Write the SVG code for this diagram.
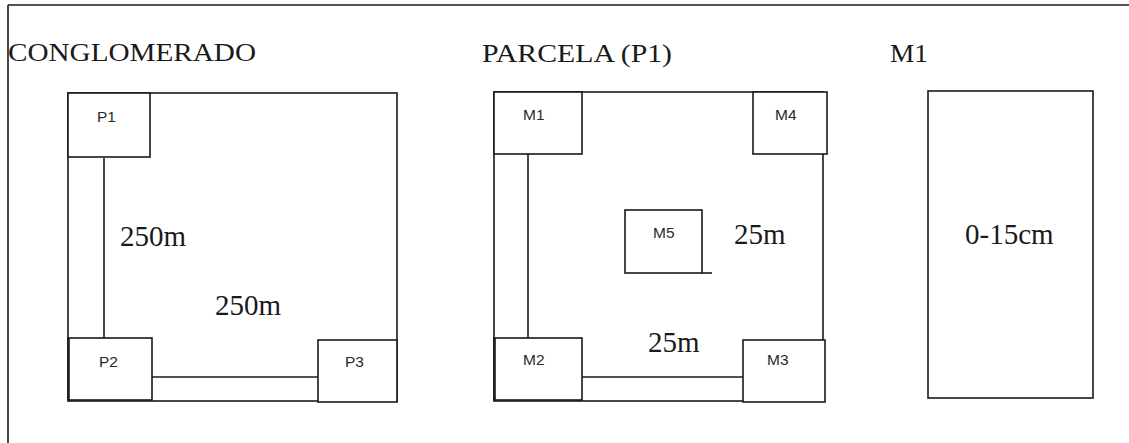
<svg xmlns="http://www.w3.org/2000/svg" width="1129" height="443" viewBox="0 0 1129 443">
<style>
.ln{stroke:#1a1a1a;stroke-width:1.6;fill:none}
.bx{stroke:#1a1a1a;stroke-width:1.6;fill:#fff}
.hd{font-family:"Liberation Serif","Times New Roman",serif;font-size:25px;fill:#1a1a1a}
.ms{font-family:"Liberation Serif","Times New Roman",serif;font-size:29px;fill:#1a1a1a}
.lb{font-family:"Liberation Sans",Arial,sans-serif;font-size:15.5px;fill:#2a2a2a}
</style>
<rect width="1129" height="443" fill="#fff"/>
<g id="frame">
<line class="ln" x1="8" y1="5" x2="1129" y2="5" stroke="#333"/>
<line class="ln" x1="8" y1="5" x2="8" y2="443" stroke="#333"/>
</g>
<g id="titles">
<text class="hd" x="8" y="61" textLength="248" lengthAdjust="spacingAndGlyphs">CONGLOMERADO</text>
<text class="hd" x="482" y="62" textLength="190" lengthAdjust="spacingAndGlyphs">PARCELA (P1)</text>
<text class="hd" x="890" y="62" textLength="38" lengthAdjust="spacingAndGlyphs">M1</text>
</g>
<g id="conglomerado">
<rect class="ln" x="68" y="93" width="329" height="308"/>
</g>
<g id="connectors">
<line class="ln" x1="104" y1="158" x2="104" y2="342"/>
<line class="ln" x1="152" y1="377" x2="318" y2="377"/>
<line class="ln" x1="528" y1="154" x2="528" y2="338"/>
<line class="ln" x1="582" y1="377" x2="743" y2="377"/>
<line class="ln" x1="702" y1="273" x2="712" y2="273"/>
</g>
<g id="P1"><rect class="bx" x="68" y="93" width="82" height="64"/><text class="lb" x="97" y="122">P1</text></g>
<g id="P2"><rect class="bx" x="68" y="338" width="84" height="62"/><line class="ln" x1="69" y1="338" x2="69" y2="400" stroke-width="2.5"/><text class="lb" x="99" y="367">P2</text></g>
<g id="P3"><rect class="bx" x="318" y="340" width="79" height="62"/><text class="lb" x="345" y="367">P3</text></g>
<g id="lbl-cong">
<text class="ms" x="120" y="246">250m</text>
<text class="ms" x="215" y="315">250m</text>
</g>
<g id="parcela">
<rect class="ln" x="494" y="92" width="329" height="309"/>
</g>
<g id="M1"><rect class="bx" x="494" y="92" width="88" height="62"/><text class="lb" x="523" y="120">M1</text></g>
<g id="M4"><rect class="bx" x="753" y="92" width="74" height="62"/><text class="lb" x="775" y="120">M4</text></g>
<g id="M2"><rect class="bx" x="494" y="338" width="88" height="62"/><line class="ln" x1="495" y1="338" x2="495" y2="400" stroke-width="2.5"/><text class="lb" x="523" y="365">M2</text></g>
<g id="M3"><rect class="bx" x="743" y="340" width="82" height="62"/><text class="lb" x="767" y="365">M3</text></g>
<g id="M5"><rect class="bx" x="625" y="210" width="77" height="63"/><text class="lb" x="653" y="238">M5</text></g>
<g id="lbl-parcela">
<text class="ms" x="734" y="244">25m</text>
<text class="ms" x="648" y="352">25m</text>
</g>
<g id="M1-detail"><rect class="bx" x="928" y="91" width="165" height="307"/><text class="ms" x="965" y="244">0-15cm</text></g>
</svg>
